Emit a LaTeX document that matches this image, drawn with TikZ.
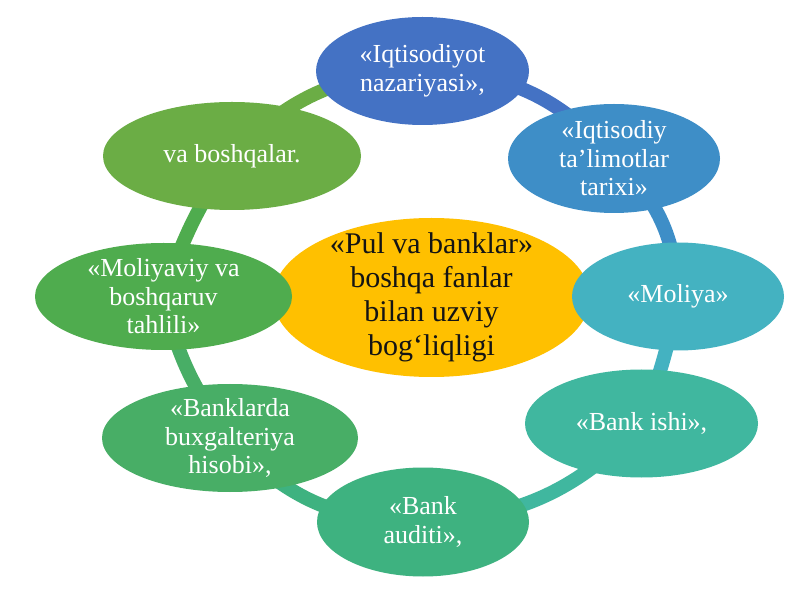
\documentclass[tikz,border=0pt]{standalone}
\usepackage{fontspec}
\setmainfont{Liberation Serif}
\definecolor{colA}{HTML}{4472C4}
\definecolor{colB}{HTML}{3E8EC7}
\definecolor{colC}{HTML}{44B2C1}
\definecolor{colD}{HTML}{40B79F}
\definecolor{colE}{HTML}{3EB280}
\definecolor{colF}{HTML}{48AE66}
\definecolor{colG}{HTML}{4FAC4E}
\definecolor{colH}{HTML}{6BAD45}
\definecolor{colY}{HTML}{FFC000}
\begin{document}
\begin{tikzpicture}[x=1pt,y=1pt,
  link/.style={line width=14pt},
  outertext/.style={text=white, align=center, font=\fontsize{26}{28.5}\selectfont, inner sep=0pt},
  centertext/.style={text=black!92, align=center, font=\fontsize{30}{34}\selectfont, inner sep=0pt}]
\fill[white] (0,0) rectangle (800,600);
\useasboundingbox (0,0) rectangle (800,600);
% centres
\coordinate (c1) at (422.5,529);
\coordinate (c2) at (614,441.5);
\coordinate (c3) at (678,303.5);
\coordinate (c4) at (641.5,176.5);
\coordinate (c5) at (423,78);
\coordinate (c6) at (230,162);
\coordinate (c7) at (163.5,303.5);
\coordinate (c8) at (232,444);
\coordinate (cc) at (431.5,302.5);
% connectors
\draw[link, colA] (c1) to[bend left=24] (c2);
\draw[link, colB] (c2) to[bend left=22] (c3);
\draw[link, colC] (c3) to[bend left=5] (c4);
\draw[link, colD] (c4) to[bend left=22] (c5);
\draw[link, colE] (c5) to[bend left=24] (c6);
\draw[link, colF] (c6) to[bend left=12] (c7);
\draw[link, colG] (c7) to[bend left=8] (c8);
\draw[link, colH] (c8) to[bend left=22] (c1);
% ellipses
\fill[colY] (cc) ellipse [x radius=158.5, y radius=79.5];
\fill[colA] (c1) ellipse [x radius=106.5, y radius=54];
\fill[colB] (c2) ellipse [x radius=106, y radius=54.5];
\fill[colC] (c3) ellipse [x radius=106, y radius=54];
\fill[colD] (c4) ellipse [x radius=116.5, y radius=54];
\fill[colE] (c5) ellipse [x radius=106, y radius=54.5];
\fill[colF] (c6) ellipse [x radius=128, y radius=54];
\fill[colG] (c7) ellipse [x radius=128.5, y radius=53.5];
\fill[colH] (c8) ellipse [x radius=129, y radius=54];
% texts
\node[centertext] (tc) at (cc) {«Pul va banklar»\\boshqa fanlar\\bilan uzviy\\bog‘liqligi};
\node[outertext] (t1) at (c1) {«Iqtisodiyot\\nazariyasi»,};
\node[outertext] (t2) at (c2) {«Iqtisodiy\\ta’limotlar\\tarixi»};
\node[outertext] (t3) at (c3) {«Moliya»};
\node[outertext] (t4) at (c4) {«Bank ishi»,};
\node[outertext] (t5) at (c5) {«Bank\\auditi»,};
\node[outertext] (t6) at (c6) {«Banklarda\\buxgalteriya\\hisobi»,};
\node[outertext] (t7) at (c7) {«Moliyaviy va\\boshqaruv\\tahlili»};
\node[outertext] (t8) at (c8) {va boshqalar.};
\end{tikzpicture}
\end{document}
